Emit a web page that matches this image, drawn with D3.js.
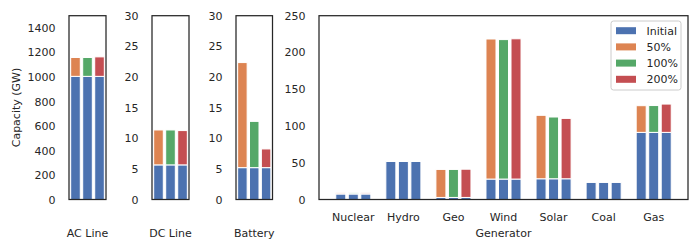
<!DOCTYPE html>
<html>
<head>
<meta charset="utf-8">
<script src="https://cdn.jsdelivr.net/npm/d3@7"></script>
<style>
  body { margin: 0; background: #fff; }
  text { font-family: "DejaVu Sans", sans-serif; fill: #262626; }
</style>
</head>
<body>
<div class="chart"></div>
<script>
// scenarios, in bar order inside each group
var scenarios = ["50%", "100%", "200%"];
var legendLabels = ["Initial", "50%", "100%", "200%"];
var colors = ["#4C72B0", "#DD8452", "#55A868", "#C44E52"];

// transmission / storage panels: initial capacity and capacity added per scenario
var acInitial = 1005;
var acAdded = [154, 154, 159];
var dcInitial = 5.65;
var dcAdded = [5.7, 5.7, 5.6];
var batteryInitial = 5.2;
var batteryAdded = [17.15, 7.55, 3.05];

// generator panel
var generators = ["Nuclear", "Hydro", "Geo", "Wind", "Solar", "Coal", "Gas"];
var genInitial = [7.5, 51.7, 2.8, 27.8, 28.2, 23.2, 91.3];
var genAdded50 = [1.5, 0, 38.1, 190.5, 86.3, 0, 36.3];
var genAdded100 = [1.5, 0, 38.1, 189.7, 84.0, 0, 36.5];
var genAdded200 = [1.5, 0, 38.4, 190.8, 82.1, 0, 38.5];

var acTicks = [0, 200, 400, 600, 800, 1000, 1200, 1400];
var smallTicks = [0, 5, 10, 15, 20, 25, 30];
var genTicks = [0, 50, 100, 150, 200, 250];

var W = 700, H = 250;
var plotTop = 15.7, plotBottom = 199.5;
var FS = "11px";

var svg = d3.select(".chart").append("svg")
	.attr("width", W)
	.attr("height", H);

// build one panel
function panel(opt) {
	var x = d3.scaleLinear().domain(opt.xDomain).range([opt.left, opt.right]);
	var y = d3.scaleLinear().domain(opt.yDomain).range([plotBottom, plotTop]);
	var g = svg.append("g");

	var bars = [];
	opt.groups.forEach(function (grp, gi) {
		scenarios.forEach(function (s, si) {
			var cx = gi + (si - 1) * 0.25;
			bars.push({ x: cx, y0: 0, y1: grp.initial, c: colors[0] });
			bars.push({ x: cx, y0: grp.initial, y1: grp.initial + grp.added[si], c: colors[si + 1] });
		});
	});

	g.selectAll("rect.bar")
		.data(bars.filter(function (d) { return d.y1 > d.y0; }))
		.enter().append("rect")
		.attr("class", "bar")
		.attr("x", function (d) { return x(d.x - 0.1); })
		.attr("width", function (d) { return x(d.x + 0.1) - x(d.x - 0.1); })
		.attr("y", function (d) { return y(d.y1); })
		.attr("height", function (d) { return y(d.y0) - y(d.y1); })
		.attr("fill", function (d) { return d.c; })
		.attr("stroke", "#fff")
		.attr("stroke-width", 1);

	var yAxis = d3.axisLeft(y).tickValues(opt.yTicks).tickFormat(d3.format("d"))
		.tickSize(0).tickPadding(13.5);
	var ya = g.append("g")
		.attr("transform", "translate(" + opt.left + ",0)")
		.call(yAxis);
	ya.select(".domain").remove();
	ya.selectAll("text")
		.style("font-size", FS)
		.style("font-family", "DejaVu Sans, sans-serif")
		.attr("fill", "#262626");

	if (opt.tickLabels) {
		g.selectAll("text.xt")
			.data(opt.tickLabels)
			.enter().append("text")
			.attr("class", "xt")
			.attr("x", function (d, i) { return x(i); })
			.attr("y", 221)
			.attr("text-anchor", "middle")
			.style("font-size", FS)
			.text(function (d) { return d; });
	}

	g.append("text")
		.attr("x", (opt.left + opt.right) / 2)
		.attr("y", 237)
		.attr("text-anchor", "middle")
		.style("font-size", FS)
		.text(opt.label);

	g.append("rect")
		.attr("x", opt.left)
		.attr("y", plotTop)
		.attr("width", opt.right - opt.left)
		.attr("height", plotBottom - plotTop)
		.attr("fill", "none")
		.attr("stroke", "#262626")
		.attr("stroke-width", 1.25);

	return g;
}

panel({ left: 69, right: 106, xDomain: [-0.385, 0.385], yDomain: [0, 1500], yTicks: acTicks,
	groups: [{ initial: acInitial, added: acAdded }], label: "AC Line" });
panel({ left: 152, right: 189, xDomain: [-0.385, 0.385], yDomain: [0, 30], yTicks: smallTicks,
	groups: [{ initial: dcInitial, added: dcAdded }], label: "DC Line" });
panel({ left: 236, right: 272.5, xDomain: [-0.385, 0.385], yDomain: [0, 30], yTicks: smallTicks,
	groups: [{ initial: batteryInitial, added: batteryAdded }], label: "Battery" });

var genGroups = generators.map(function (name, i) {
	return { initial: genInitial[i], added: [genAdded50[i], genAdded100[i], genAdded200[i]] };
});
panel({ left: 319, right: 688, xDomain: [-0.685, 6.685], yDomain: [0, 250], yTicks: genTicks,
	groups: genGroups, tickLabels: generators, label: "Generator" });

// y label
svg.append("text")
	.attr("transform", "translate(19.5,107.5) rotate(-90)")
	.attr("text-anchor", "middle")
	.style("font-size", FS)
	.text("Capacity (GW)");

// legend
var legend = svg.append("g").attr("transform", "translate(611,21)");
legend.append("rect")
	.attr("width", 70)
	.attr("height", 69)
	.attr("rx", 2.5)
	.attr("fill", "#fff")
	.attr("fill-opacity", 0.8)
	.attr("stroke", "#cccccc")
	.attr("stroke-width", 1);

var item = legend.selectAll("g.item")
	.data(legendLabels)
	.enter().append("g")
	.attr("class", "item")
	.attr("transform", function (d, i) { return "translate(0," + (9.7 + i * 16.2) + ")"; });

item.append("rect")
	.attr("x", 5)
	.attr("y", -3.5)
	.attr("width", 20)
	.attr("height", 7)
	.attr("fill", function (d, i) { return colors[i]; });

item.append("text")
	.attr("x", 35.5)
	.attr("y", 4)
	.style("font-size", FS)
	.text(function (d) { return d; });
</script>
</body>
</html>
